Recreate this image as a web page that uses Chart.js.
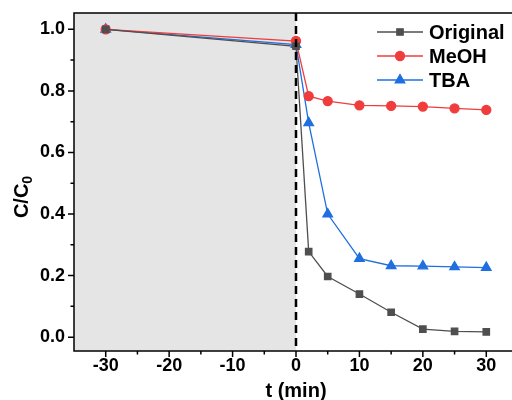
<!DOCTYPE html>
<html><head><meta charset="utf-8">
<script src="https://cdn.jsdelivr.net/npm/chart.js@4/dist/chart.umd.min.js"></script>
<style>html,body{margin:0;padding:0;overflow:hidden;background:#fff;width:512px;height:400px}canvas{display:block}</style>
</head><body>
<canvas id="c" width="530" height="400"></canvas>
<script>
const times = [-30, 0, 2, 5, 10, 15, 20, 25, 30];
const original = [1.0, 0.945, 0.278, 0.197, 0.140, 0.081, 0.026, 0.019, 0.017];
const meoh = [1.0, 0.962, 0.783, 0.767, 0.753, 0.751, 0.749, 0.743, 0.738];
const tba = [1.0, 0.950, 0.696, 0.400, 0.255, 0.232, 0.231, 0.228, 0.226];
const xTicks = [-30, -20, -10, 0, 10, 20, 30];
const yTicks = [0.0, 0.2, 0.4, 0.6, 0.8, 1.0];
const seriesNames = ['Original', 'MeOH', 'TBA'];

const FONT = 'Arial, "Liberation Sans", sans-serif';
const pts = arr => times.map((t, i) => ({x: t, y: arr[i]}));

const decor = {
  id: 'decor',
  beforeDatasetsDraw(chart) {
    const {ctx, chartArea: a, scales: {x}} = chart;
    ctx.save();
    const x0 = x.getPixelForValue(0);
    ctx.fillStyle = '#e5e5e5';
    ctx.fillRect(a.left, a.top, x0 - a.left, a.bottom - a.top);
    ctx.restore();
  },
  afterDatasetsDraw(chart) {
    const {ctx, chartArea: a, scales: {x}} = chart;
    ctx.save();
    const x0 = Math.round(x.getPixelForValue(0));
    ctx.strokeStyle = '#000';
    ctx.lineWidth = 2.5;
    ctx.setLineDash([8, 5]);
    ctx.beginPath();
    ctx.moveTo(x0, a.top);
    ctx.lineTo(x0, a.bottom);
    ctx.stroke();
    ctx.restore();
  },
  afterDraw(chart) {
    const {ctx, chartArea: a, scales: {x, y}} = chart;
    ctx.save();
    ctx.strokeStyle = '#000';
    ctx.lineWidth = 1.5;
    ctx.strokeRect(a.left, a.top, a.right - a.left, a.bottom - a.top);
    ctx.beginPath();
    for (let v = 0; v <= 1.0001; v += 0.1) {
      const py = y.getPixelForValue(v);
      const major = Math.round(v * 10) % 2 === 0;
      ctx.moveTo(a.left, py);
      ctx.lineTo(a.left - (major ? 6 : 3.5), py);
    }
    for (let v = -30; v <= 35; v += 5) {
      const px = x.getPixelForValue(v);
      const major = v % 10 === 0;
      ctx.moveTo(px, a.bottom);
      ctx.lineTo(px, a.bottom + (major ? 6 : 3.5));
    }
    ctx.stroke();
    ctx.fillStyle = '#000';
    ctx.translate(22, 197);
    ctx.rotate(-Math.PI / 2);
    ctx.font = 'bold 20px ' + FONT;
    const w1 = ctx.measureText('C/C').width;
    ctx.font = 'bold 14px ' + FONT;
    const w2 = ctx.measureText('0').width;
    const start = -(w1 + w2) / 2;
    ctx.textBaseline = 'middle';
    ctx.textAlign = 'left';
    ctx.font = 'bold 20px ' + FONT;
    ctx.fillText('C/C', start, 0);
    ctx.font = 'bold 14px ' + FONT;
    ctx.fillText('0', start + w1, 6);
    ctx.setTransform(1, 0, 0, 1, 0, 0);
    ctx.font = 'bold 20px ' + FONT;
    ctx.textAlign = 'center';
    ctx.textBaseline = 'middle';
    ctx.fillText('t (min)', x.getPixelForValue(0), 391);
    const ys = [32, 56, 80];
    chart.data.datasets.forEach((ds, i) => {
      const ly = ys[i];
      ctx.strokeStyle = ds.borderColor;
      ctx.fillStyle = ds.borderColor;
      ctx.lineWidth = 1.3;
      ctx.beginPath();
      ctx.moveTo(377, ly);
      ctx.lineTo(423, ly);
      ctx.stroke();
      Chart.helpers.drawPoint(ctx, {pointStyle: ds.pointStyle, radius: ds.pointRadius, rotation: 0, borderWidth: 1}, 400, ly);
      ctx.fillStyle = '#000';
      ctx.font = 'bold 20px ' + FONT;
      ctx.textAlign = 'left';
      ctx.textBaseline = 'middle';
      ctx.fillText(ds.label, 429, ly + 1);
    });
    ctx.restore();
  }
};

function mk(label, data, color, style, r) {
  return {label, data: pts(data), borderColor: color, backgroundColor: color,
    pointBackgroundColor: color, pointBorderColor: color, borderWidth: 1.3,
    pointStyle: style, pointRadius: r, pointHoverRadius: r, tension: 0};
}

new Chart(document.getElementById('c'), {
  type: 'line',
  data: {datasets: [
    mk(seriesNames[0], original, '#4f4f4f', 'rect', 4.5),
    mk(seriesNames[1], meoh, '#f03c3c', 'circle', 4.5),
    mk(seriesNames[2], tba, '#1f6fe0', 'triangle', 5.5)
  ]},
  options: {
    responsive: false, animation: false,
    layout: {padding: {top: 13, right: 12, left: 0, bottom: 0}},
    plugins: {legend: {display: false}, tooltip: {enabled: false}},
    scales: {
      x: {type: 'linear', min: -35, max: 35,
        afterBuildTicks: s => { s.ticks = xTicks.map(v => ({value: v})); },
        afterFit: s => { s.height = 49; s.paddingLeft = 0; s.paddingRight = 0; },
        grid: {display: false, drawTicks: false}, border: {display: false},
        ticks: {color: '#000', font: {family: FONT, size: 18, weight: 'bold'}, padding: 4, maxRotation: 0,
          callback: v => String(v)}},
      y: {type: 'linear', min: -0.045, max: 1.053,
        afterBuildTicks: s => { s.ticks = yTicks.map(v => ({value: v})); },
        afterFit: s => { s.width = 74; s.paddingTop = 0; s.paddingBottom = 0; },
        grid: {display: false, drawTicks: false}, border: {display: false},
        ticks: {color: '#000', font: {family: FONT, size: 18, weight: 'bold'}, padding: 9,
          callback: v => Number(v).toFixed(1)}}
    }
  },
  plugins: [decor]
});
</script>
</body></html>
